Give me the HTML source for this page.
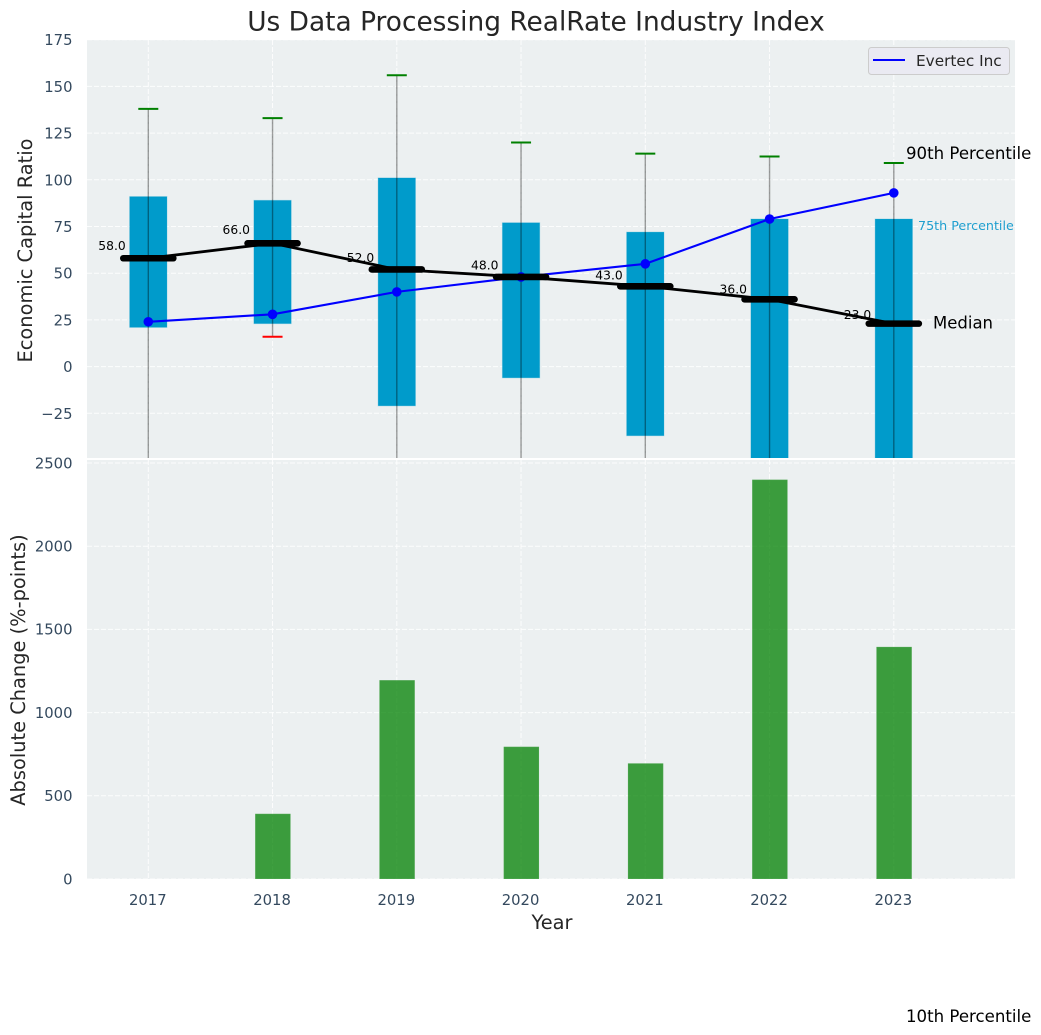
<!DOCTYPE html>
<html lang="en">
<head>
<meta charset="utf-8">
<title>Us Data Processing RealRate Industry Index</title>
<style>
html,body{margin:0;padding:0;background:#fff;width:1041px;height:1035px;overflow:hidden}
svg{display:block}
text{font-family:"DejaVu Sans","Liberation Sans",sans-serif}
.tick{font-size:14.8px;fill:#34495e}
.axt{font-size:19.4px;fill:#262626}
</style>
</head>
<body>
<svg id="chart" xmlns="http://www.w3.org/2000/svg" width="1041" height="1035" viewBox="0 0 1041 1035">
  <defs>
    <clipPath id="top-clip"><rect x="87" y="40" width="928" height="418"/></clipPath>
    <clipPath id="bot-clip"><rect x="87" y="460" width="928" height="419"/></clipPath>
  </defs>
  <rect width="1041" height="1035" fill="#ffffff"/>
  <text x="536" y="30.5" text-anchor="middle" font-size="26.4" fill="#262626">Us Data Processing RealRate Industry Index</text>
  <rect x="87" y="40" width="928" height="418" fill="#ecf0f1"/>
  <rect x="87" y="460" width="928" height="419" fill="#ecf0f1"/>
  <g id="top-grid" clip-path="url(#top-clip)"></g>
  <g id="bot-grid" clip-path="url(#bot-clip)"></g>
  <g id="top-marks" clip-path="url(#top-clip)"></g>
  <g id="bot-marks" clip-path="url(#bot-clip)"></g>
  <g id="ticks"></g>
  <g id="labels"></g>
  <text class="axt" transform="translate(32 250.5) rotate(-90)" text-anchor="middle">Economic Capital Ratio</text>
  <text class="axt" transform="translate(25 670) rotate(-90)" text-anchor="middle">Absolute Change (%-points)</text>
  <text class="axt" x="552" y="929" text-anchor="middle">Year</text>
  <g>
    <rect x="868.5" y="47.5" width="141" height="27" rx="3" fill="#eaeaf2" stroke="#cccccc"/>
    <line x1="873" x2="905" y1="60" y2="60" stroke="#0000ff" stroke-width="2"/>
    <text x="916" y="66" font-size="15.3" fill="#262626">Evertec Inc</text>
  </g>
</svg>
<script>
const years = [2017, 2018, 2019, 2020, 2021, 2022, 2023];
const p90 = [138, 133, 156, 120, 114, 112.5, 109];
const p75 = [91, 89, 101, 77, 72, 79, 79];
const medians = [58, 66, 52, 48, 43, 36, 23];
const p25 = [21, 23, -21, -6, -37, -60, -60];
const p10 = [-60, 16, -80, -60, -90, -100, -110];
const evertec = [24, 28, 40, 48, 55, 79, 93];
const changes = [0, 392, 1195, 795, 695, 2400, 1395];
const topTicks = [175, 150, 125, 100, 75, 50, 25, 0, -25];
const bottomTicks = [2500, 2000, 1500, 1000, 500, 0];

const NS = 'http://www.w3.org/2000/svg';
const xScale = function (year) { return 148.3 + (year - 2017) * 124.25; };
const yTop = function (v) { return 366.6 - v * 1.868; };
const yBot = function (v) { return 879 - v * 0.1664; };
const BOX_W = 37.3;
const BAR_W = 35.4;

function make(tag, parent, attrs, text) {
  const el = document.createElementNS(NS, tag);
  for (const k in attrs) el.setAttribute(k, attrs[k]);
  if (text !== undefined) el.textContent = text;
  document.getElementById(parent).appendChild(el);
  return el;
}
const gridStyle = { stroke: '#ffffff', 'stroke-width': 1, 'stroke-dasharray': '5 2', 'stroke-opacity': 0.85 };

topTicks.forEach(function (t) {
  const y = yTop(t);
  const g = make('line', 'top-grid', Object.assign({ x1: 87, x2: 1015, y1: y, y2: y }, gridStyle));
  
  
  const l = make('text', 'ticks', { class: 'tick', x: 72.5, y: y + 5.5, 'text-anchor': 'end' }, String(t).replace('-', '\u2212'));
  
  
});
bottomTicks.forEach(function (t) {
  const y = yBot(t);
  const g = make('line', 'bot-grid', Object.assign({ x1: 87, x2: 1015, y1: y, y2: y }, gridStyle));
  
  
  const l = make('text', 'ticks', { class: 'tick', x: 72.5, y: y + 5.3, 'text-anchor': 'end' }, String(t));
  
  
});
years.forEach(function (yr) {
  const x = xScale(yr);
  const a = make('line', 'top-grid', Object.assign({ x1: x, x2: x, y1: 40, y2: 458 }, gridStyle));
  
  
  const b = make('line', 'bot-grid', Object.assign({ x1: x, x2: x, y1: 460, y2: 879 }, gridStyle));
  
  
  const l = make('text', 'ticks', { class: 'tick', x: x - 0.5, y: 905, 'text-anchor': 'middle' }, String(yr));
  
  
});

years.forEach(function (yr, i) {
  const x = xScale(yr);
  const box = make('rect', 'top-marks', {
    x: x - BOX_W / 2, y: yTop(p75[i]), width: BOX_W, height: yTop(p25[i]) - yTop(p75[i]),
    fill: '#009bcb', stroke: '#009bcb', 'stroke-opacity': 0.25, 'stroke-width': 1
  });
  
  
  const w = make('line', 'top-marks', { x1: x, x2: x, y1: yTop(p90[i]), y2: yTop(p10[i]), stroke: '#000000', 'stroke-opacity': 0.38, 'stroke-width': 1.4 });
  
  
  const c1 = make('line', 'top-marks', { x1: x - 10, x2: x + 10, y1: yTop(p90[i]), y2: yTop(p90[i]), stroke: '#008000', 'stroke-width': 2 });
  
  
  const c2 = make('line', 'top-marks', { x1: x - 10, x2: x + 10, y1: yTop(p10[i]), y2: yTop(p10[i]), stroke: '#ff0000', 'stroke-width': 2 });
  
  
  const bar = make('rect', 'bot-marks', {
    x: x + 0.3 - BAR_W / 2, y: yBot(changes[i]), width: BAR_W, height: 879 - yBot(changes[i]),
    fill: '#008000', 'fill-opacity': 0.75, stroke: '#ffffff', 'stroke-opacity': 0.12, 'stroke-width': 1
  });
  
  
});

const medianLine = make('polyline', 'top-marks', {
  points: years.map(function (yr, i) { return xScale(yr) + ',' + yTop(medians[i]); }).join(' '),
  fill: 'none', stroke: '#000000', 'stroke-width': 2.8
});



const evLine = make('polyline', 'top-marks', {
  points: years.map(function (yr, i) { return xScale(yr) + ',' + yTop(evertec[i]); }).join(' '),
  fill: 'none', stroke: '#0000ff', 'stroke-width': 2.1
});



years.forEach(function (yr, i) {
  const x = xScale(yr);
  const dot = make('circle', 'top-marks', { cx: x, cy: yTop(evertec[i]), r: 4.8, fill: '#0000ff' });
  
  
  const m = make('line', 'top-marks', {
    x1: x - 25, x2: x + 25, y1: yTop(medians[i]), y2: yTop(medians[i]),
    stroke: '#000000', 'stroke-width': 6.6, 'stroke-linecap': 'round'
  });
  
  
  const t = make('text', 'labels', {
    x: x - 36.3, y: yTop(medians[i] * 1.06 + 3.4) + 4.5, 'text-anchor': 'middle', 'font-size': 12.3, fill: '#000000'
  }, medians[i].toFixed(1));
  
  
});

const last = years.length - 1;
const lastX = xScale(years[last]);
const a90 = make('text', 'labels', { x: lastX + 12.2, y: yTop(p90[last]) - 4, 'font-size': 16.6, fill: '#000000' }, '90th Percentile');


const a75 = make('text', 'labels', { x: lastX + 24.2, y: yTop(p75[last]) + 11, 'font-size': 12.7, fill: '#1f9fcf' }, '75th Percentile');


const aMed = make('text', 'labels', { x: lastX + 39.2, y: yTop(medians[last]) + 5, 'font-size': 16.5, fill: '#000000' }, 'Median');


const a10 = make('text', 'labels', { x: lastX + 12.2, y: 1022, 'font-size': 16.6, fill: '#000000' }, '10th Percentile');


</script>
</body>
</html>
